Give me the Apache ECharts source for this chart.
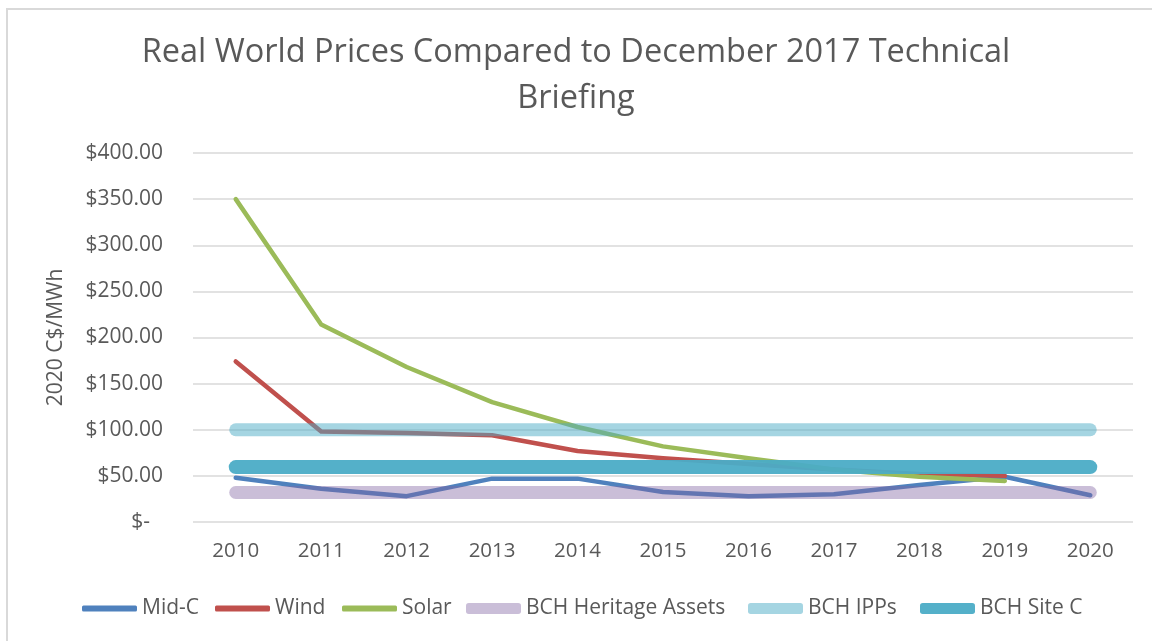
<!DOCTYPE html>
<html>
<head>
<meta charset="utf-8">
<script src="https://cdn.jsdelivr.net/npm/echarts@6/dist/echarts.min.js"></script>
<style>
html,body{margin:0;padding:0;background:#fff;}
#chart{width:1152px;height:641px;}
</style>
</head>
<body>
<div id="chart"></div>
<script>
const years = ['2010','2011','2012','2013','2014','2015','2016','2017','2018','2019','2020'];
const midC = [48, 36, 28, 47, 47, 32.5, 28, 30, 40, 49, 29];
const wind = [174, 98, 96.5, 94, 77, 69, 63, 57, 52, 50, null];
const solar = [350, 214, 168, 130, 103, 82, 69, 57, 49, 44.5, null];
const heritage = [32, 32, 32, 32, 32, 32, 32, 32, 32, 32, 32];
const ipps = [100, 100, 100, 100, 100, 100, 100, 100, 100, 100, 100];
const siteC = [59.5, 59.5, 59.5, 59.5, 59.5, 59.5, 59.5, 59.5, 59.5, 59.5, 59.5];
const seriesNames = ['Mid-C', 'Wind', 'Solar', 'BCH Heritage Assets', 'BCH IPPs', 'BCH Site C'];
const yTicks = {min: 0, max: 400, interval: 50};

const FONT = 'Open Sans';
const TXT = '#595959';

function lineSeries(name, data, color, width) {
  return {
    name: name, type: 'line', data: data,
    showSymbol: false, symbol: 'none',
    lineStyle: {color: color, width: width, cap: 'round', join: 'round'},
    itemStyle: {color: color},
    emphasis: {disabled: true},
    animation: false
  };
}

// one legend component per entry so each can sit where the reference places it
const legendLeft = [77, 210, 337, 461, 743, 915];
const legendH = [6, 6, 6, 11, 11, 11];
const legends = seriesNames.map(function (n, i) {
  return {
    left: legendLeft[i], top: 593,
    itemWidth: 55, itemHeight: legendH[i],
    icon: 'roundRect', selectedMode: false,
    data: [n],
    textStyle: {fontFamily: FONT, fontSize: 21, color: TXT}
  };
});

const chart = echarts.init(document.getElementById('chart'), null, {renderer: 'canvas'});
chart.setOption({
  backgroundColor: '#fff',
  textStyle: {fontFamily: FONT},
  graphic: [{
    type: 'rect', silent: true, z: -1,
    shape: {x: 7, y: 9, width: 1200, height: 700},
    style: {fill: 'none', stroke: '#d9d9d9', lineWidth: 2}
  }],
  title: {
    text: 'Real World Prices Compared to December 2017 Technical\nBriefing',
    left: 'center', top: 25,
    textStyle: {fontFamily: FONT, fontSize: 32.5, fontWeight: 'normal', color: TXT, lineHeight: 46}
  },
  legend: legends,
  grid: {left: 193, right: 19, top: 153, bottom: 119},
  xAxis: {
    type: 'category', data: years, boundaryGap: true,
    axisLine: {show: false}, axisTick: {show: false},
    axisLabel: {color: TXT, fontSize: 20.5, fontFamily: FONT, margin: 19}
  },
  yAxis: {
    type: 'value', min: yTicks.min, max: yTicks.max, interval: yTicks.interval,
    name: '2020 C$/MWh', nameLocation: 'middle', nameGap: 126,
    nameTextStyle: {color: TXT, fontSize: 21, fontFamily: FONT},
    axisLine: {show: false}, axisTick: {show: false},
    splitLine: {lineStyle: {color: '#d9d9d9', width: 1.5}},
    axisLabel: {
      color: TXT, fontSize: 21, fontFamily: FONT, margin: 30,
      formatter: function (v) { return v === 0 ? '{z|$-}' : '$' + v.toFixed(2); },
      rich: {z: {color: TXT, fontSize: 21, fontFamily: FONT, padding: [0, 13, 0, 0]}}
    }
  },
  series: [
    lineSeries(seriesNames[0], midC, '#4f81bd', 4.5),
    lineSeries(seriesNames[1], wind, '#c0504d', 4.5),
    lineSeries(seriesNames[2], solar, '#9bbb59', 4.5),
    lineSeries(seriesNames[3], heritage, 'rgba(128,100,162,0.42)', 13),
    lineSeries(seriesNames[4], ipps, 'rgba(75,172,198,0.5)', 13),
    lineSeries(seriesNames[5], siteC, 'rgba(75,172,198,0.95)', 14)
  ]
});
</script>
</body>
</html>
